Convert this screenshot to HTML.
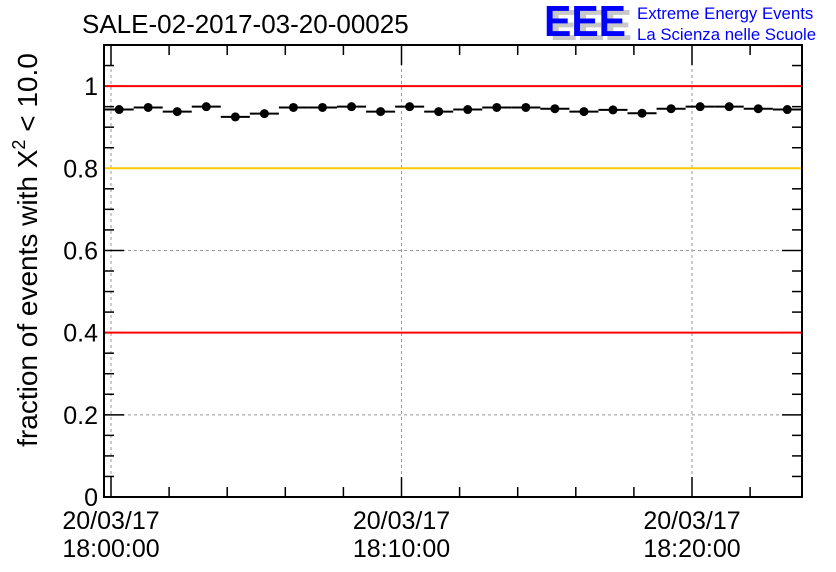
<!DOCTYPE html>
<html><head><meta charset="utf-8"><style>
body{margin:0;background:#fff;width:836px;height:572px;overflow:hidden}
svg{display:block;font-family:"Liberation Sans",Arial,sans-serif}
</style></head><body>
<svg id="c" width="836" height="572">
<text x="82" y="33" font-size="26" fill="#000">SALE-02-2017-03-20-00025</text>
<g>
<text x="550" y="40" font-size="44" font-weight="bold" fill="#c8c8c8" textLength="82" lengthAdjust="spacingAndGlyphs">EEE</text>
<text x="544" y="36" font-size="44" font-weight="bold" fill="#0000ff" textLength="82" lengthAdjust="spacingAndGlyphs">EEE</text>
<text x="637" y="19" font-size="16.8" fill="#0000ff">Extreme Energy Events</text>
<text x="637" y="40" font-size="16.8" fill="#0000ff">La Scienza nelle Scuole</text>
</g>
<text transform="translate(37,250) rotate(-90)" text-anchor="middle" font-size="28" fill="#000">fraction of events with X<tspan dy="-12" font-size="18">2</tspan><tspan dy="12"> &lt; 10.0</tspan></text>
<g id="plot"></g>
</svg>
<script>
const values=[0.943,0.948,0.938,0.950,0.925,0.933,0.948,0.948,0.950,0.938,0.950,0.938,0.943,0.948,0.948,0.945,0.938,0.942,0.934,0.945,0.950,0.950,0.945,0.943];
const yTicks=[0,0.2,0.4,0.6,0.8,1];
const yTickLabels=["0","0.2","0.4","0.6","0.8","1"];
const xTickMinutes=[0,10,20];
const xTickLabels=[["20/03/17","18:00:00"],["20/03/17","18:10:00"],["20/03/17","18:20:00"]];
const refLines=[{v:1,c:"#ff0000"},{v:0.8,c:"#ffcc00"},{v:0.4,c:"#ff0000"}];
const L=104,R=802,T=45,B=497,yMax=1.1;
const x0=111,pxPerMin=29.05,binStart=-0.22;
const X=m=>x0+m*pxPerMin;
const Y=v=>B-(v/yMax)*(B-T);
const NS="http://www.w3.org/2000/svg";
const g=document.getElementById('plot');
function mk(tag,a){const e=document.createElementNS(NS,tag);for(const k in a)e.setAttribute(k,a[k]);g.appendChild(e);return e;}
yTicks.forEach(v=>{if(v>0&&v<1.05){const e=mk('line',{x1:L,x2:R,y1:Y(v),y2:Y(v),stroke:'#999','stroke-dasharray':'3,3','stroke-width':1});

}});
xTickMinutes.forEach(m=>{const e=mk('line',{x1:X(m),x2:X(m),y1:T,y2:B,stroke:'#999','stroke-dasharray':'3,3','stroke-width':1});

});
for(let i=0;i<=22;i++){const v=i*0.05;const len=(i%4===0)?20:10;const y=Y(v);
mk('line',{x1:L,x2:L+len,y1:y,y2:y,stroke:'#000','stroke-width':1.5});
mk('line',{x1:R,x2:R-len,y1:y,y2:y,stroke:'#000','stroke-width':1.5});}
refLines.forEach(r=>{const e=mk('line',{x1:L,x2:R,y1:Y(r.v),y2:Y(r.v),stroke:r.c,'stroke-width':2});

});
const fr=mk('rect',{x:L,y:T,width:R-L,height:B-T,fill:'none',stroke:'#000','stroke-width':2});


yTicks.forEach((v,i)=>{const t=mk('text',{x:L-6,y:Y(v)+9,'text-anchor':'end','font-size':25});t.textContent=yTickLabels[i];

});
for(let m=0;m<=24;m+=2){const x=X(m);if(x>R)break;const len=(m%10===0)?20:10;
mk('line',{x1:x,x2:x,y1:B,y2:B-len,stroke:'#000','stroke-width':1.5});
mk('line',{x1:x,x2:x,y1:T,y2:T+len,stroke:'#000','stroke-width':1.5});}
xTickMinutes.forEach((m,i)=>{const t1=mk('text',{x:X(m),y:529,'text-anchor':'middle','font-size':25});t1.textContent=xTickLabels[i][0];


const t2=mk('text',{x:X(m),y:557,'text-anchor':'middle','font-size':25});t2.textContent=xTickLabels[i][1];

});
values.forEach((v,i)=>{const xl=X(i+binStart),xr=X(i+1+binStart),y=Y(v);
const l=mk('line',{x1:xl,x2:Math.min(xr,R),y1:y,y2:y,stroke:'#000','stroke-width':2});


const c=mk('circle',{cx:(xl+xr)/2,cy:y,r:4.5,fill:'#000'});

});
</script>
</body></html>
